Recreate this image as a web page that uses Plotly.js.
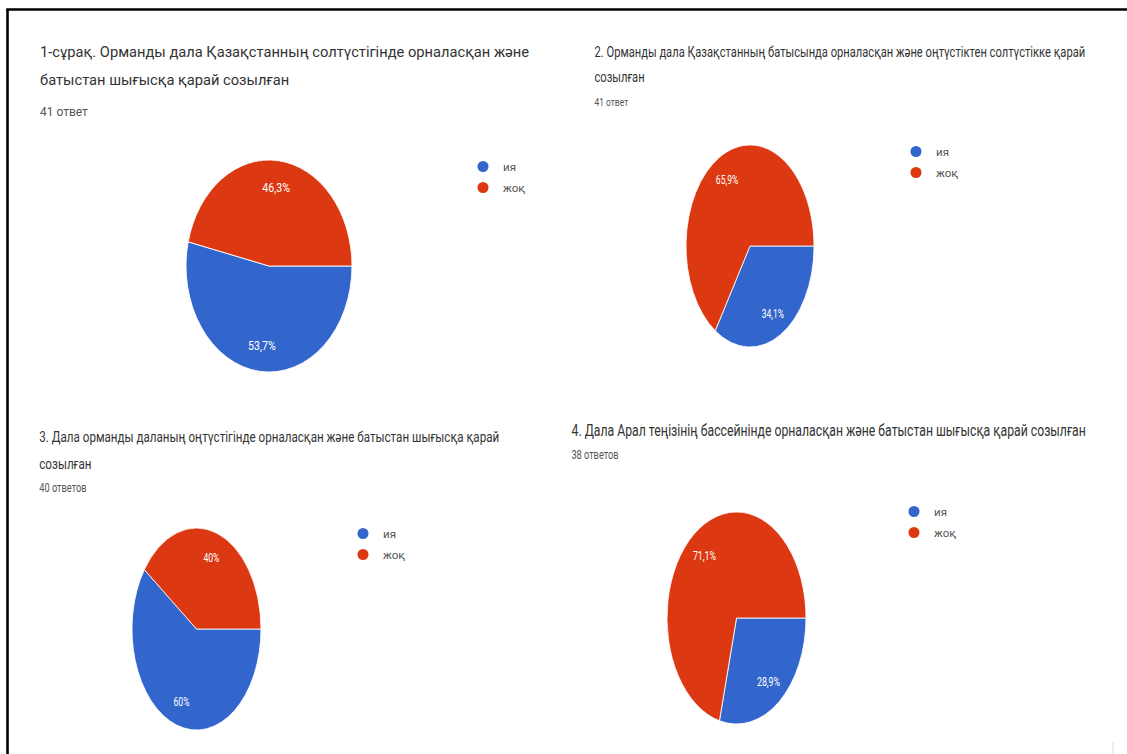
<!DOCTYPE html>
<html>
<head>
<meta charset="utf-8">
<script src="https://cdn.plot.ly/plotly-3.0.1.min.js"></script>
<style>
  html, body { margin: 0; padding: 0; background: #fff; }
  #bg { position: absolute; left: 0; top: 0; width: 1127px; height: 754px; z-index: 0; }
  #tt { position: absolute; left: 0; top: 0; transform-origin: 0 0; z-index: 1; pointer-events: none; }
  .pie { position: absolute; transform-origin: 0 0; z-index: 2; }
</style>
</head>
<body>
<div id="bg"></div>
<div id="tt"></div>
<div id="p1" class="pie"></div>
<div id="p2" class="pie"></div>
<div id="p3" class="pie"></div>
<div id="p4" class="pie"></div>
<script>
// ---- data ----
const categories = ['ия', 'жоқ'];
const sliceColors = ['#3366cc', '#dc3912'];
const q1Values = [22, 19];   // 53,7% / 46,3% of 41
const q2Values = [14, 27];   // 34,1% / 65,9% of 41
const q3Values = [24, 16];   // 60% / 40% of 40
const q4Values = [11, 27];   // 28,9% / 71,1% of 38
const q1Title = ['1-сұрақ. Орманды дала Қазақстанның солтүстігінде орналасқан және', 'батыстан шығысқа қарай созылған'];
const q2Title = ['2. Орманды дала Қазақстанның батысында орналасқан және оңтүстіктен солтүстікке қарай', 'созылған'];
const q3Title = ['3. Дала орманды даланың оңтүстігінде орналасқан және батыстан шығысқа қарай', 'созылған'];
const q4Title = ['4. Дала Арал теңізінің бассейнінде орналасқан және батыстан шығысқа қарай созылған'];
const q1Sub = '41 ответ';
const q2Sub = '41 ответ';
const q3Sub = '40 ответов';
const q4Sub = '38 ответов';

// ---- layout helpers ----
const W = 1127, H = 754;
const px = x => x / W;
const py = y => 1 - y / H;
const font = 'Roboto, "Noto Sans", sans-serif';
const condense = 0.77;   // horizontal squeeze of the titles of charts 2-4

const charts = [
  { values: q1Values, title: q1Title, sub: q1Sub, tx: 38, ty: [52, 80], sy: 112, tsize: 14.7, ssize: 12, narrow: false,
    leg: [463, 152], pie: { cx: 269, cy: 266, rx: 83, ry: 106 } },
  { values: q2Values, title: q2Title, sub: q2Sub, tx: 593, ty: [52, 78], sy: 102, tsize: 14.5, ssize: 11, narrow: true,
    leg: [896, 137], pie: { cx: 750, cy: 246, rx: 64, ry: 101 } },
  { values: q3Values, title: q3Title, sub: q3Sub, tx: 38, ty: [437, 464], sy: 488, tsize: 15.1, ssize: 12, narrow: true,
    leg: [343, 519], pie: { cx: 196.5, cy: 629, rx: 64.5, ry: 101 } },
  { values: q4Values, title: q4Title, sub: q4Sub, tx: 570, ty: [430], sy: 455, tsize: 15.9, ssize: 12, narrow: true,
    leg: [894, 497], pie: { cx: 736.5, cy: 618, rx: 69.5, ry: 106 } }
];

const bgAnn = [];
const ttAnn = [];
const traces = [];
const layout = {
  width: W, height: H,
  margin: { l: 0, r: 0, t: 0, b: 0 },
  paper_bgcolor: '#ffffff', plot_bgcolor: '#ffffff',
  xaxis: { visible: false, range: [0, 1], fixedrange: true },
  yaxis: { visible: false, range: [0, 1], fixedrange: true },
  showlegend: true,
  shapes: [
    { type: 'line', xref: 'paper', yref: 'paper', x0: px(7.5), x1: px(7.5), y0: py(9.5), y1: py(754), line: { color: '#000', width: 2.6 } },
    { type: 'line', xref: 'paper', yref: 'paper', x0: px(6.2), x1: px(1127), y0: py(9.5), y1: py(9.5), line: { color: '#000', width: 2.6 } },
    { type: 'line', xref: 'paper', yref: 'paper', x0: px(1113), x1: px(1113), y0: py(742), y1: py(754), line: { color: '#dddddd', width: 1 } }
  ],
  annotations: bgAnn
};

charts.forEach((c, i) => {
  const target = c.narrow ? ttAnn : bgAnn;
  c.title.forEach((line, j) => {
    target.push({ xref: 'paper', yref: 'paper', x: px(c.tx), y: py(c.ty[j]), xanchor: 'left', yanchor: 'middle',
      text: line, showarrow: false, font: { family: font, size: c.tsize, color: '#333333' } });
  });
  target.push({ xref: 'paper', yref: 'paper', x: px(c.tx), y: py(c.sy), xanchor: 'left', yanchor: 'middle',
    text: c.sub, showarrow: false, font: { family: font, size: c.ssize, color: '#555555' } });

  const legName = i === 0 ? 'legend' : 'legend' + (i + 1);
  layout[legName] = { x: px(c.leg[0]), y: py(c.leg[1]), xanchor: 'left', yanchor: 'top', bgcolor: 'rgba(0,0,0,0)',
    font: { family: font, size: 11.5, color: '#555555' }, tracegroupgap: 2 };
  categories.forEach((cat, k) => {
    traces.push({ type: 'scatter', mode: 'markers', x: [null], y: [null], name: cat, legend: legName,
      legendgroup: legName + '_' + k,
      marker: { color: sliceColors[k], size: 11 }, hoverinfo: 'skip' });
  });
});

Plotly.newPlot('bg', traces, layout, { displayModeBar: false, staticPlot: true });

// condensed title layer for charts 2-4
const ttEl = document.getElementById('tt');
const W2 = W / condense;
ttEl.style.width = W2 + 'px';
ttEl.style.height = H + 'px';
ttEl.style.transform = 'scaleX(' + condense + ')';
Plotly.newPlot(ttEl, [], {
  width: W2, height: H, margin: { l: 0, r: 0, t: 0, b: 0 },
  paper_bgcolor: 'rgba(0,0,0,0)', plot_bgcolor: 'rgba(0,0,0,0)',
  xaxis: { visible: false }, yaxis: { visible: false }, showlegend: false,
  annotations: ttAnn
}, { displayModeBar: false, staticPlot: true });

// pies (squeezed horizontally into ellipses like the reference)
charts.forEach((c, i) => {
  const D = 2 * c.pie.ry;
  const s = c.pie.rx / c.pie.ry;
  const el = document.getElementById('p' + (i + 1));
  el.style.left = (c.pie.cx - c.pie.rx) + 'px';
  el.style.top = (c.pie.cy - c.pie.ry) + 'px';
  el.style.width = D + 'px';
  el.style.height = D + 'px';
  el.style.transform = 'scaleX(' + s + ')';
  const common = { type: 'pie', labels: categories, values: c.values, sort: false, direction: 'clockwise', rotation: 90, showlegend: false };
  Plotly.newPlot(el, [
    Object.assign({}, common, {
      marker: { colors: sliceColors, line: { color: '#ffffff', width: 1 } },
      textinfo: 'none', hoverinfo: 'label+percent'
    }),
    Object.assign({}, common, {
      hole: 0.5,
      marker: { colors: ['rgba(0,0,0,0)', 'rgba(0,0,0,0)'], line: { width: 0 } },
      texttemplate: '%{percent:.1~%}', textposition: 'inside', insidetextorientation: 'horizontal',
      insidetextfont: { family: font, size: 13.5, color: '#ffffff' }, hoverinfo: 'skip'
    })
  ], {
    width: D, height: D, margin: { l: 0, r: 0, t: 0, b: 0 },
    paper_bgcolor: 'rgba(0,0,0,0)', separators: ', ', showlegend: false
  }, { displayModeBar: false, staticPlot: true });
});
</script>
</body>
</html>
